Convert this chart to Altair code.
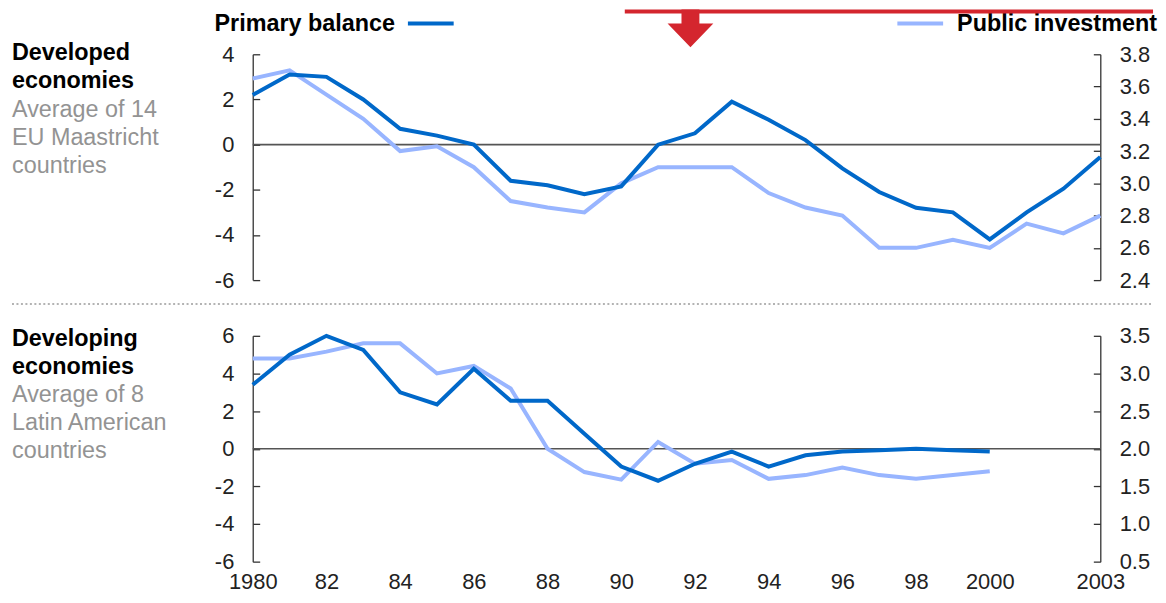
import altair as alt
import pandas as pd

# ---------------- data ----------------
years_dev = list(range(1980, 2004))
pb_dev = [2.2, 3.1, 3.0, 2.0, 0.7, 0.4, 0.0, -1.6, -1.8, -2.2, -1.85, 0.0,
          0.5, 1.9, 1.1, 0.2, -1.05, -2.1, -2.8, -3.0, -4.2, -3.0, -1.95, -0.55]
pi_dev = [3.65, 3.70, 3.55, 3.40, 3.20, 3.23, 3.10, 2.89, 2.85, 2.82, 3.00, 3.10,
          3.10, 3.10, 2.94, 2.85, 2.80, 2.60, 2.60, 2.65, 2.60, 2.75, 2.69, 2.80]

years_lat = list(range(1980, 2001))
pb_lat = [3.4, 5.0, 6.0, 5.25, 3.0, 2.35, 4.25, 2.55, 2.55, 0.8, -0.95, -1.7,
          -0.8, -0.15, -0.95, -0.35, -0.15, -0.08, 0.0, -0.08, -0.15]
pi_lat = [3.2, 3.2, 3.29, 3.4, 3.4, 3.0, 3.1, 2.8, 2.0, 1.69, 1.59, 2.09,
          1.8, 1.85, 1.6, 1.65, 1.75, 1.65, 1.6, 1.65, 1.7]

x_ticks = [1980, 1982, 1984, 1986, 1988, 1990, 1992, 1994, 1996, 1998, 2000, 2003]
pb_ticks_dev = [4, 2, 0, -2, -4, -6]
pi_ticks_dev = [3.8, 3.6, 3.4, 3.2, 3.0, 2.8, 2.6, 2.4]
pb_ticks_lat = [6, 4, 2, 0, -2, -4, -6]
pi_ticks_lat = [3.5, 3.0, 2.5, 2.0, 1.5, 1.0, 0.5]

series_names = ["Primary balance", "Public investment"]
panel_titles = ["Developed\neconomies", "Developing\neconomies"]
panel_notes = ["Average of 14\nEU Maastricht\ncountries",
               "Average of 8\nLatin American\ncountries"]

DARK = "#0068c9"
LIGHT = "#98b5ff"
RED = "#d4262e"
FONT = "Liberation Sans"
W, H = 852, 227

df_dev = pd.DataFrame({"year": years_dev, "pb": pb_dev, "pi": pi_dev})
df_lat = pd.DataFrame({"year": years_lat, "pb": pb_lat, "pi": pi_lat})
one = pd.DataFrame({"a": [0]})

axis_common = dict(labelFont=FONT, labelFontSize=22, labelColor="#222",
                   domainColor="#333", domainWidth=1.3, tickColor="#333",
                   tickWidth=1.3, grid=False, title=None)


def panel(df, pb_dom, pi_dom, pb_ticks, pi_ticks, show_x, title, note, top):
    if show_x:
        x_axis = alt.Axis(values=x_ticks, ticks=False, domain=False, labelFlush=False,
                          labelPadding=10,
                          labelExpr="datum.value == 1980 || datum.value >= 2000 ? '' + datum.value : substring('' + datum.value, 2, 4)",
                          **axis_common)
    else:
        x_axis = None
    x = alt.X("year:Q", scale=alt.Scale(domain=[1980, 2003], nice=False, zero=False),
              axis=x_axis, title=None)
    pb_scale = alt.Scale(domain=pb_dom, nice=False, zero=False)
    pi_scale = alt.Scale(domain=pi_dom, nice=False, zero=False)

    zero = alt.Chart(one).mark_rule(color="#555", strokeWidth=1.6).encode(
        y=alt.Y("a:Q", scale=pb_scale, axis=None))

    pi_line = alt.Chart(df).mark_line(color=LIGHT, strokeWidth=4).encode(
        x=x,
        y=alt.Y("pi:Q", scale=pi_scale,
                axis=alt.Axis(orient="right", values=pi_ticks, format=".1f", ticks=False,
                              tickSize=0, labelPadding=19, **axis_common)))
    pb_line = alt.Chart(df).mark_line(color=DARK, strokeWidth=4).encode(
        x=x,
        y=alt.Y("pb:Q", scale=pb_scale,
                axis=alt.Axis(orient="left", values=pb_ticks, labelExpr="'' + datum.value",
                              ticks=False, tickSize=0, labelPadding=19, **axis_common)))
    # inward tick marks (axes placed on the opposite edge)
    pb_t = alt.Chart(df).mark_line(opacity=0).encode(
        x=x,
        y=alt.Y("pb:Q", scale=pb_scale,
                axis=alt.Axis(orient="right", offset=-W, values=pb_ticks, labels=False,
                              domain=False, ticks=True, tickSize=7, **axis_common)))
    pi_t = alt.Chart(df).mark_line(opacity=0).encode(
        x=x,
        y=alt.Y("pi:Q", scale=pi_scale,
                axis=alt.Axis(orient="left", offset=-W, values=pi_ticks, labels=False,
                              domain=False, ticks=True, tickSize=7, **axis_common)))

    t1 = alt.Chart(one).mark_text(align="left", baseline="alphabetic", font=FONT,
                                  fontSize=23.5, fontWeight="bold", color="#000",
                                  lineHeight=28, text=title.split("\n")).encode(
        x=alt.value(-242), y=alt.value(top))
    t2 = alt.Chart(one).mark_text(align="left", baseline="alphabetic", font=FONT,
                                  fontSize=23.5, color="#939393",
                                  lineHeight=28, text=note.split("\n")).encode(
        x=alt.value(-242), y=alt.value(top + 57))

    layers = [zero, pi_line, pb_line, pb_t, pi_t, t1, t2]
    return layers


top_layers = panel(df_dev, [-6, 4], [2.4, 3.8], pb_ticks_dev, pi_ticks_dev, False,
                   panel_titles[0], panel_notes[0], 6)

# legend and decorations for the top panel
leg_pb_text = alt.Chart(one).mark_text(align="right", baseline="middle", font=FONT,
                                       fontSize=23.5, fontWeight="bold", color="#000",
                                       text=series_names[0]).encode(
    x=alt.value(143), y=alt.value(-30))
leg_pb_line = alt.Chart(one).mark_rule(color=DARK, strokeWidth=4).encode(
    x=alt.value(156), x2=alt.value(202), y=alt.value(-31))
leg_pi_line = alt.Chart(one).mark_rule(color=LIGHT, strokeWidth=4).encode(
    x=alt.value(648), x2=alt.value(694), y=alt.value(-31))
leg_pi_text = alt.Chart(one).mark_text(align="left", baseline="middle", font=FONT,
                                       fontSize=23.5, fontWeight="bold", color="#000",
                                       text=series_names[1]).encode(
    x=alt.value(708), y=alt.value(-30))
red_bar = alt.Chart(one).mark_rect(color=RED).encode(
    x=alt.value(374), x2=alt.value(905), y=alt.value(-45), y2=alt.value(-41))
arrow_path = ("M-0.391,-0.826 L0.391,-0.826 L0.391,-0.217 L1,-0.217 L0,0.826 "
              "L-1,-0.217 L-0.391,-0.217 Z")
red_arrow = alt.Chart(one).mark_point(shape=arrow_path, size=2116, filled=True,
                                      color=RED, opacity=1, strokeWidth=0).encode(
    x=alt.value(440), y=alt.value(-26))
separator = alt.Chart(one).mark_rule(color="#9a9a9a", strokeWidth=1.5,
                                     strokeDash=[2, 2.5]).encode(
    x=alt.value(-242), x2=alt.value(905), y=alt.value(251))

top = alt.layer(*top_layers, leg_pb_text, leg_pb_line, leg_pi_line, leg_pi_text,
                red_bar, red_arrow, separator).resolve_scale(y="independent").properties(
    width=W, height=H)

bottom_layers = panel(df_lat, [-6, 6], [0.5, 3.5], pb_ticks_lat, pi_ticks_lat, True,
                      panel_titles[1], panel_notes[1], 10)
bottom = alt.layer(*bottom_layers).resolve_scale(y="independent").properties(
    width=W, height=H)

chart = alt.vconcat(top, bottom, spacing=56, bounds="flush").properties(
    padding={"left": 3, "top": 0, "right": 0, "bottom": 0},
    background="white",
).configure_view(stroke=None)

chart.save("out.html", embed_options={"renderer": "svg", "actions": False})
